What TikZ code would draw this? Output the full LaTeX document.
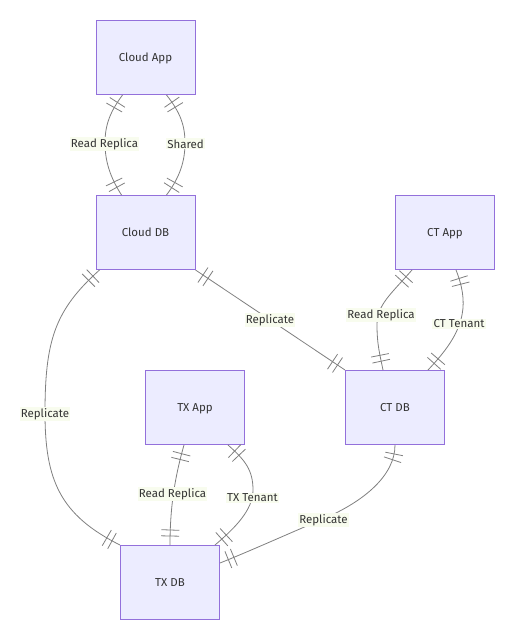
\documentclass[tikz,border=0pt]{standalone}
\usepackage{fontspec}
\setmainfont{Fira Sans}
\usetikzlibrary{calc,decorations.markings}
\definecolor{entfill}{HTML}{ECECFF}
\definecolor{entdraw}{HTML}{9370DB}
\definecolor{edgegray}{HTML}{808080}
\definecolor{txtcol}{HTML}{333333}
\definecolor{lblbg}{RGB}{248,252,238}
\tikzset{
  ent/.style={draw=entdraw, fill=entfill, line width=1pt, minimum width=99pt, minimum height=74pt, inner sep=0pt, text=txtcol, font=\fontsize{11.5}{13}\selectfont, text depth=0pt, yshift=-0.5pt},
  lbl/.style={fill=lblbg, inner sep=1.2pt, text=txtcol, font=\fontsize{11.5}{13}\selectfont, yshift=-0.8pt},
  onebar/.style={draw=edgegray, line width=0.8pt},
  rel/.style={draw=edgegray, line width=0.8pt, postaction={decorate},
    decoration={markings,
      mark=at position 9pt with {\draw[onebar] (0pt,-9pt)--(0pt,9pt);},
      mark=at position 15pt with {\draw[onebar] (0pt,-9pt)--(0pt,9pt);},
      mark=at position -15pt with {\draw[onebar] (0pt,-9pt)--(0pt,9pt);},
      mark=at position -9pt with {\draw[onebar] (0pt,-9pt)--(0pt,9pt);}}}
}
\begin{document}
\begin{tikzpicture}[x=1pt,y=-1pt]
\useasboundingbox[fill=white] (0,0) rectangle (515,640);
\node[ent] (ca)  at (145.5,57)  {Cloud App};
\node[ent] (cd)  at (145.5,232) {Cloud DB};
\node[ent] (cta) at (445,232)   {CT App};
\node[ent] (ctd) at (395,407)   {CT DB};
\node[ent] (txa) at (195,407)   {TX App};
\node[ent] (txd) at (170,582)   {TX DB};
% Cloud App -- Cloud DB
\draw[rel] ($(ca.south west)+(27,0)$) .. controls (110,112) and (105,125) .. (105,143)
  .. controls (105,161) and (110,177) .. ($(cd.north west)+(26,0)$);
\draw[rel] ($(ca.south west)+(71,0)$) .. controls (180,112) and (185,125) .. (185,143)
  .. controls (185,161) and (180,177) .. ($(cd.north west)+(71,0)$);
% Cloud DB -- TX DB
\draw[rel] ($(cd.south west)+(4,0)$) .. controls (55,310) and (45,340) .. (45,413)
  .. controls (45,480) and (60,515) .. (txd.north west);
% Cloud DB -- CT DB
\draw[rel] (cd.south east) -- (ctd.north west);
% CT App -- CT DB
\draw[rel] ($(cta.south west)+(17,0)$) .. controls (390,295) and (377,305) .. (377,325)
  .. controls (377,345) and (380,355) .. ($(ctd.north west)+(38,0)$);
\draw[rel] ($(cta.south west)+(61,0)$) .. controls (462,285) and (465,300) .. (462,315)
  .. controls (458,335) and (445,352) .. ($(ctd.north west)+(83,0)$);
% TX App -- TX DB
\draw[rel] ($(txa.south west)+(39,0)$) .. controls (174,480) and (170,510) .. (txd.north);
\draw[rel] ($(txa.south west)+(83,0)$) .. controls (245,460) and (253,470) .. (253,490)
  .. controls (253,510) and (235,528) .. ($(txd.north west)+(95,0)$);
% CT DB -- TX DB
\draw[rel] (ctd.south) .. controls (395,475) and (365,501) .. (323,519)
  .. controls (290,533) and (250,551) .. ($(txd.north east)+(0,18)$);
% labels
\node[lbl] (l1) at (104.5,143) {Read Replica};
\node[lbl] (l2) at (185.5,143) {Shared};
\node[lbl] (l3) at (45,413)    {Replicate};
\node[lbl] (l4) at (270,319)   {Replicate};
\node[lbl] (l5) at (381,314)   {Read Replica};
\node[lbl] (l6) at (459,323)   {CT Tenant};
\node[lbl] (l7) at (172.5,493) {Read Replica};
\node[lbl] (l8) at (252.5,497) {TX Tenant};
\node[lbl] (l9) at (323.5,519) {Replicate};
\end{tikzpicture}
\end{document}
